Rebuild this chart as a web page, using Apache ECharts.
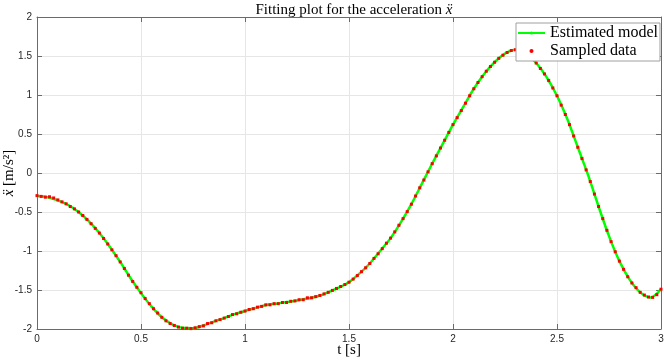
<!DOCTYPE html>
<html>
<head>
<meta charset="utf-8">
<script src="https://cdn.jsdelivr.net/npm/echarts@6/dist/echarts.min.js"></script>
<style>
  html, body { margin: 0; padding: 0; background: #fff; }
  #chart { width: 664px; height: 361px; }
</style>
</head>
<body>
<div id="chart"></div>
<script>
// estimated model, one value every 0.05 s from t = 0
const modelStep = 0.05;
const modelValues = [
  -0.295, -0.31, -0.35, -0.41, -0.50, -0.62, -0.77, -0.945, -1.14, -1.35,
  -1.54, -1.71, -1.85, -1.94, -1.985, -1.99, -1.955, -1.905, -1.86, -1.81,
  -1.77, -1.73, -1.695, -1.675, -1.655, -1.635, -1.61, -1.58, -1.53, -1.47,
  -1.40, -1.29, -1.16, -1.00, -0.835, -0.63, -0.40, -0.14, 0.12, 0.37,
  0.62, 0.85, 1.08, 1.27, 1.42, 1.53, 1.58, 1.53, 1.41, 1.23,
  0.99, 0.69, 0.33, -0.03, -0.43, -0.81, -1.13, -1.37, -1.53, -1.595,
  -1.49
];

// sampled data, one value every 0.02 s from t = 0
const sampleStep = 0.02;
const sampleValues = [
  -0.29, -0.30, -0.31, -0.305, -0.32, -0.345, -0.37, -0.395, -0.43, -0.46,
  -0.50, -0.545, -0.595, -0.65, -0.71, -0.77, -0.84, -0.91, -0.985, -1.06,
  -1.14, -1.225, -1.31, -1.39, -1.465, -1.535, -1.61, -1.675, -1.74, -1.795,
  -1.85, -1.895, -1.93, -1.955, -1.975, -1.99, -1.99, -1.995, -1.985, -1.97,
  -1.96, -1.93, -1.92, -1.895, -1.88, -1.86, -1.84, -1.815, -1.805, -1.785,
  -1.77, -1.75, -1.74, -1.72, -1.71, -1.69, -1.69, -1.675, -1.675, -1.66,
  -1.66, -1.645, -1.64, -1.625, -1.625, -1.60, -1.60, -1.585, -1.57, -1.55,
  -1.53, -1.505, -1.48, -1.455, -1.43, -1.40, -1.36, -1.315, -1.265, -1.215,
  -1.16, -1.095, -1.035, -0.97, -0.90, -0.835, -0.755, -0.67, -0.585, -0.495,
  -0.40, -0.295, -0.19, -0.09, 0.015, 0.12, 0.22, 0.32, 0.42, 0.52,
  0.62, 0.71, 0.80, 0.895, 0.99, 1.08, 1.16, 1.235, 1.305, 1.365,
  1.42, 1.47, 1.51, 1.545, 1.57, 1.58, 1.57, 1.545, 1.515, 1.47,
  1.41, 1.34, 1.27, 1.185, 1.09, 0.99, 0.87, 0.75, 0.62, 0.475,
  0.33, 0.185, 0.04, -0.11, -0.27, -0.43, -0.585, -0.735, -0.88, -1.01,
  -1.13, -1.235, -1.33, -1.41, -1.47, -1.53, -1.565, -1.59, -1.595, -1.56,
  -1.49
];

const xTicks = { min: 0, max: 3, interval: 0.5 };
const yTicks = { min: -2, max: 2, interval: 0.5 };

const serif = '"Liberation Serif", "DejaVu Serif", serif';
const sans = '"Liberation Sans", Arial, sans-serif';
const axisColor = '#6b6b6b';

const chart = echarts.init(document.getElementById('chart'));

function pairs(step, values) {
  return values.map((v, i) => [+(i * step).toFixed(3), v]);
}

function boxAxis(extra) {
  return Object.assign({
    type: 'value',
    axisLine: { show: true, onZero: false, lineStyle: { color: axisColor, width: 1 } },
    axisTick: { show: true, inside: true, length: 5, lineStyle: { color: axisColor } },
    splitLine: { show: false },
    axisLabel: { show: false },
  }, extra);
}

chart.setOption({
  animation: false,
  title: {
    text: 'Fitting plot for the acceleration {i|ẍ}',
    left: 349,
    textAlign: 'center',
    top: -2,
    textStyle: {
      fontFamily: serif,
      fontSize: 15,
      fontWeight: 'normal',
      color: '#000',
      rich: { i: { fontFamily: serif, fontSize: 15, fontStyle: 'italic', color: '#000' } },
    },
  },
  grid: { left: 37, right: 3, top: 17, bottom: 32, containLabel: false, outerBoundsMode: 'none' },
  legend: {
    orient: 'vertical',
    left: 516,
    top: 23,
    padding: [1, 2, 1, 1],
    itemGap: 0,
    itemWidth: 27,
    itemHeight: 4,
    backgroundColor: '#fff',
    borderColor: '#a0a0a0',
    borderWidth: 1,
    textStyle: { fontFamily: serif, fontSize: 16, color: '#000', lineHeight: 18 },
    data: [
      { name: 'Estimated model' },
      { name: 'Sampled data', icon: 'circle' },
    ],
  },
  xAxis: [
    boxAxis(Object.assign({
      position: 'bottom',
      name: 't [s]',
      nameLocation: 'middle',
      nameGap: 14,
      nameMoveOverlap: false,
      nameTextStyle: { fontFamily: serif, fontSize: 15, color: '#000', verticalAlign: 'top' },
      axisLabel: { show: true, fontFamily: sans, fontSize: 10, color: '#262626', margin: 5 },
      splitLine: { show: true, lineStyle: { color: '#e6e6e6', width: 1 } },
    }, xTicks)),
    boxAxis(Object.assign({ position: 'top' }, xTicks)),
  ],
  yAxis: [
    boxAxis(Object.assign({
      position: 'left',
      name: '{i|ẍ} [m/s²]',
      nameLocation: 'middle',
      nameRotate: 90,
      nameGap: 20,
      nameMoveOverlap: false,
      nameTextStyle: {
        fontFamily: serif, fontSize: 15, color: '#000',
        rich: { i: { fontFamily: serif, fontSize: 15, fontStyle: 'italic', color: '#000' } },
      },
      axisLabel: { show: true, fontFamily: sans, fontSize: 10, color: '#262626', margin: 5 },
      splitLine: { show: true, lineStyle: { color: '#e6e6e6', width: 1 } },
    }, yTicks)),
    boxAxis(Object.assign({ position: 'right' }, yTicks)),
  ],
  series: [
    {
      name: 'Estimated model',
      type: 'line',
      data: pairs(modelStep, modelValues),
      smooth: 0.3,
      symbol: 'none',
      lineStyle: { color: '#00ff00', width: 2.5 },
      itemStyle: { color: '#00ff00' },
      z: 2,
    },
    {
      name: 'Sampled data',
      type: 'scatter',
      data: pairs(sampleStep, sampleValues),
      symbol: 'rect',
      symbolSize: 3,
      itemStyle: { color: '#ff0000', opacity: 1 },
      z: 3,
    },
  ],
});
</script>
</body>
</html>
